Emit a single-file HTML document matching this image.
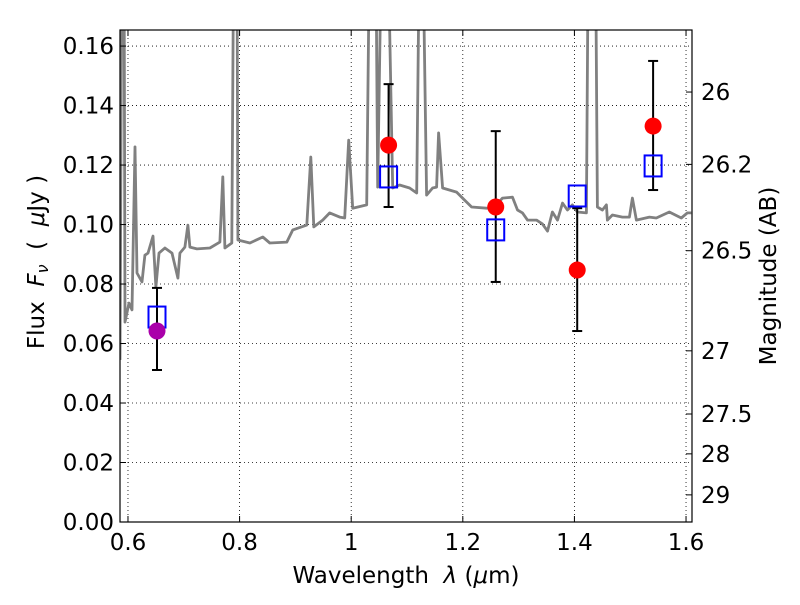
<!DOCTYPE html>
<html><head><meta charset="utf-8"><style>
body{margin:0;background:#fff}
svg text{font-family:"DejaVu Sans","Liberation Sans",sans-serif}
</style></head><body>
<svg id="chart" width="800" height="600" viewBox="0 0 800 600" xmlns="http://www.w3.org/2000/svg">
<defs><clipPath id="plotclip"><rect x="120" y="30" width="572" height="492"/></clipPath></defs>
<rect width="800" height="600" fill="#fff"/>
<g id="grid"></g>
<g id="spec" clip-path="url(#plotclip)"></g>
<g id="marks"></g>
<rect x="120" y="30" width="572" height="492" fill="none" stroke="#000" stroke-width="1.2"/>
<g id="axes"></g>
<text x="406" y="583" font-size="23" text-anchor="middle" xml:space="preserve">Wavelength  <tspan font-style="italic">λ</tspan> (<tspan font-style="italic">μ</tspan>m)</text>
<text transform="translate(44,262) rotate(-90)" font-size="23" text-anchor="middle" xml:space="preserve">Flux  <tspan font-style="italic">F</tspan><tspan font-style="italic" font-size="16" dy="4">ν</tspan><tspan dy="-4">  (  </tspan><tspan font-style="italic">μ</tspan>Jy )</text>
<text transform="translate(776,276) rotate(-90)" font-size="23" text-anchor="middle">Magnitude (AB)</text>
</svg>
<script>
const xTicks=[0.6,0.8,1.0,1.2,1.4,1.6];
const xTickLabels=["0.6","0.8","1","1.2","1.4","1.6"];
const yTicks=[0,0.02,0.04,0.06,0.08,0.10,0.12,0.14,0.16];
const yTickLabels=["0.00","0.02","0.04","0.06","0.08","0.10","0.12","0.14","0.16"];
const magTicks=[26,26.2,26.5,27,27.5,28,29];
const magTickLabels=["26","26.2","26.5","27","27.5","28","29"];
const specWave=[0.5857,0.5893,0.5929,0.5946,0.6018,0.6072,0.6125,0.6161,0.6251,0.6304,0.6358,0.6448,0.6501,0.6555,0.6662,0.6788,0.6895,0.6931,0.7020,0.7074,0.7110,0.7235,0.7468,0.7647,0.7700,0.7736,0.7861,0.7897,0.7951,0.7969,0.8184,0.8416,0.8542,0.8846,0.8953,0.9204,0.9276,0.9329,0.9490,0.9615,0.9794,0.9884,0.9955,1.0027,1.0277,1.0331,1.0439,1.0475,1.0546,1.0654,1.0743,1.0868,1.1047,1.1173,1.1226,1.1280,1.1351,1.1459,1.1530,1.1566,1.1638,1.1888,1.2032,1.2157,1.2425,1.2568,1.2712,1.2891,1.2980,1.3069,1.3159,1.3320,1.3427,1.3517,1.3606,1.3696,1.3786,1.3875,1.3964,1.4054,1.4215,1.4251,1.4376,1.4412,1.4501,1.4573,1.4591,1.4680,1.4859,1.4985,1.5039,1.5110,1.5343,1.5468,1.5701,1.5915,1.6023,1.6095];
const specFlux=[0.0545,0.2,0.2,0.0672,0.0736,0.0713,0.1261,0.0837,0.0807,0.0897,0.0904,0.0961,0.0790,0.0904,0.0921,0.0904,0.0820,0.0904,0.0924,0.0998,0.0924,0.0918,0.0921,0.0941,0.1160,0.0921,0.0938,0.2,0.2,0.0948,0.0938,0.0958,0.0938,0.0941,0.0982,0.0998,0.1227,0.0992,0.1015,0.1039,0.1025,0.1022,0.1284,0.1055,0.1066,0.2,0.2,0.1126,0.2,0.2,0.1123,0.1133,0.1123,0.1106,0.2,0.2,0.1099,0.1123,0.1126,0.1308,0.1123,0.1109,0.1082,0.1059,0.1055,0.1059,0.1089,0.1092,0.1049,0.1039,0.1015,0.1015,0.1002,0.0978,0.1042,0.1015,0.1072,0.1049,0.1066,0.1042,0.1039,0.2,0.2,0.1059,0.1049,0.1066,0.1015,0.1032,0.1025,0.1025,0.1089,0.1015,0.1025,0.1022,0.1042,0.1022,0.1039,0.1039];
const obsWave=[0.652,1.067,1.259,1.405,1.541];
const obsFlux=[0.0642,0.1267,0.1059,0.0847,0.1331];
const obsLow=[0.0511,0.1059,0.0807,0.0642,0.1116];
const obsHigh=[0.0787,0.1472,0.1314,0.1055,0.1550];
const obsColors=["#aa00aa","#ff0000","#ff0000","#ff0000","#ff0000"];
const modelFlux=[0.0689,0.1160,0.0982,0.1096,0.1197];

const NS="http://www.w3.org/2000/svg";
const X0=120,X1=692,Y0=522,Y1=30,WMIN=0.5857,WMAX=1.6107,FMIN=0,FMAX=0.1654;
function sx(w){return X0+(w-WMIN)/(WMAX-WMIN)*(X1-X0);}
function sy(f){return Y0-(f-FMIN)/(FMAX-FMIN)*(Y0-Y1);}
function magToFlux(m){return Math.pow(10,(23.9-m)/2.5);}
function mk(tag,attrs,parent){const e=document.createElementNS(NS,tag);for(const k in attrs)e.setAttribute(k,attrs[k]);parent.appendChild(e);return e;}
const grid=document.getElementById('grid'),axes=document.getElementById('axes');
xTicks.forEach((t,i)=>{
  const x=sx(t);
  const g=mk('line',{x1:x,x2:x,y1:Y1,y2:Y0,stroke:'#000','stroke-width':0.8,'stroke-dasharray':'1,3'},grid);
  
  
  mk('line',{x1:x,x2:x,y1:Y0,y2:Y0-6,stroke:'#000'},axes);
  mk('line',{x1:x,x2:x,y1:Y1,y2:Y1+6,stroke:'#000'},axes);
  const tx=mk('text',{x:x,y:Y0+28,'font-size':23,'text-anchor':'middle'},axes);
  tx.textContent=xTickLabels[i];
  
  
});
yTicks.forEach((t,i)=>{
  const y=sy(t);
  const g=mk('line',{x1:X0,x2:X1,y1:y,y2:y,stroke:'#000','stroke-width':0.8,'stroke-dasharray':'1,3'},grid);
  
  
  mk('line',{x1:X0,x2:X0+6,y1:y,y2:y,stroke:'#000'},axes);
  const tx=mk('text',{x:X0-6,y:y+8,'font-size':23,'text-anchor':'end'},axes);
  tx.textContent=yTickLabels[i];
  
  
});
magTicks.forEach((m,i)=>{
  const y=sy(magToFlux(m));
  mk('line',{x1:X1,x2:X1-6,y1:y,y2:y,stroke:'#000'},axes);
  const tx=mk('text',{x:X1+9,y:y+8,'font-size':23},axes);
  tx.textContent=magTickLabels[i];
  
  
});
const spec=document.getElementById('spec');
const pts=specWave.map((w,i)=>sx(w).toFixed(1)+','+sy(specFlux[i]).toFixed(1)).join(' ');
const pl=mk('polyline',{points:pts,fill:'none',stroke:'#808080','stroke-width':2.8,'stroke-linejoin':'round'},spec);


const marks=document.getElementById('marks');
obsWave.forEach((w,i)=>{
  const x=sx(w);
  const eb=mk('g',{},marks);
  
  
  mk('line',{x1:x,x2:x,y1:sy(obsLow[i]),y2:sy(obsHigh[i]),stroke:'#000','stroke-width':2},eb);
  mk('line',{x1:x-5,x2:x+5,y1:sy(obsLow[i]),y2:sy(obsLow[i]),stroke:'#000','stroke-width':2},eb);
  mk('line',{x1:x-5,x2:x+5,y1:sy(obsHigh[i]),y2:sy(obsHigh[i]),stroke:'#000','stroke-width':2},eb);
  const sq=mk('rect',{x:x-8.5,y:sy(modelFlux[i])-10.5,width:17,height:21,fill:'none',stroke:'#0000ff','stroke-width':2},marks);
  
  
  const c=mk('circle',{cx:x,cy:sy(obsFlux[i]),r:8.5,fill:obsColors[i]},marks);
  
  
});
</script>
</body></html>
